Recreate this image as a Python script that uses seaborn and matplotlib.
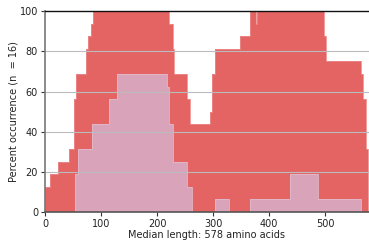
import numpy as np
import pandas as pd
import seaborn as sns
import matplotlib
matplotlib.use("Agg")
import matplotlib.pyplot as plt

# Outer (red) series: step starts and values
red_x = [0, 9, 23, 43.5, 52, 56, 73, 77, 81.6, 86.3, 222, 228, 231, 253, 259,
         295, 298, 304, 347, 365, 377, 379, 497, 502, 564, 568, 572, 576, 578]
red_v = [12.5, 18.75, 25, 31.25, 56.25, 68.75, 81.25, 87.5, 93.75, 100, 93.75, 81.25,
         68.75, 56.25, 43.75, 50, 68.75, 81.25, 87.5, 100, 93.75, 100, 87.5, 75,
         68.75, 56.25, 31.25, 0, 0]

# Inner (pink) series
pink_x = [0, 54, 58, 83.5, 115, 128, 217.5, 221, 229, 253, 263, 303, 329, 365,
          437, 487, 564, 578]
pink_v = [0, 18.75, 31.25, 43.75, 56.25, 68.75, 62.5, 43.75, 25, 12.5, 0, 6.25, 0,
          6.25, 18.75, 6.25, 0, 0]

x_ticks = [0, 100, 200, 300, 400, 500]
y_ticks = [0, 20, 40, 60, 80, 100]

RED = "#E46464"
PINK = "#D9A4BA"

sns.set_theme(style="white")
plt.rcParams['font.family'] = ['DejaVu Sans']

fig = plt.figure(figsize=(3.69, 2.41), dpi=100)
ax = fig.add_axes([45/369, 1-212/241, 324/369, (212-11.3)/241])

df_r = pd.DataFrame({"x": red_x, "v": red_v})
df_p = pd.DataFrame({"x": pink_x, "v": pink_v})

ax.fill_between(df_r.x, df_r.v, step="post", color=RED, lw=0, zorder=1)
sns.lineplot(data=df_r, x="x", y="v", drawstyle="steps-post", color="#ec8a8a",
             lw=0.6, ax=ax, zorder=1.5)
ax.fill_between(df_p.x, df_p.v, step="post", color=PINK, lw=0, zorder=2)
sns.lineplot(data=df_p, x="x", y="v", drawstyle="steps-post", color="#e3b8c9",
             lw=0.6, ax=ax, zorder=2.5)

for yv in [20, 40, 60, 80]:
    ax.axhline(yv, color="#bbbbbb", lw=0.8, zorder=3)

ax.set_xlim(0, 578)
ax.set_ylim(0, 100)
ax.set_xticks(x_ticks)
ax.set_yticks(y_ticks)
ax.tick_params(axis="both", labelsize=7, length=3, width=0.8, direction="out",
               color="#333333", labelcolor="#222222", pad=2)
ax.tick_params(axis="x", bottom=True)
ax.tick_params(axis="y", left=True)

ax.spines["right"].set_visible(False)
ax.spines["top"].set_color("#111111")
ax.spines["top"].set_linewidth(1.0)
ax.spines["left"].set_color("#777777")
ax.spines["left"].set_linewidth(1.2)
ax.spines["bottom"].set_color("#555555")
ax.spines["bottom"].set_linewidth(1.2)
for s in ax.spines.values():
    s.set_zorder(5)

ax.set_xlabel("Median length: 578 amino acids", fontsize=7, color="#222222", labelpad=1)
ax.set_ylabel("Percent occurrence (n  = 16)", fontsize=7, color="#222222", labelpad=1)

fig.savefig("out.png", dpi=100)
